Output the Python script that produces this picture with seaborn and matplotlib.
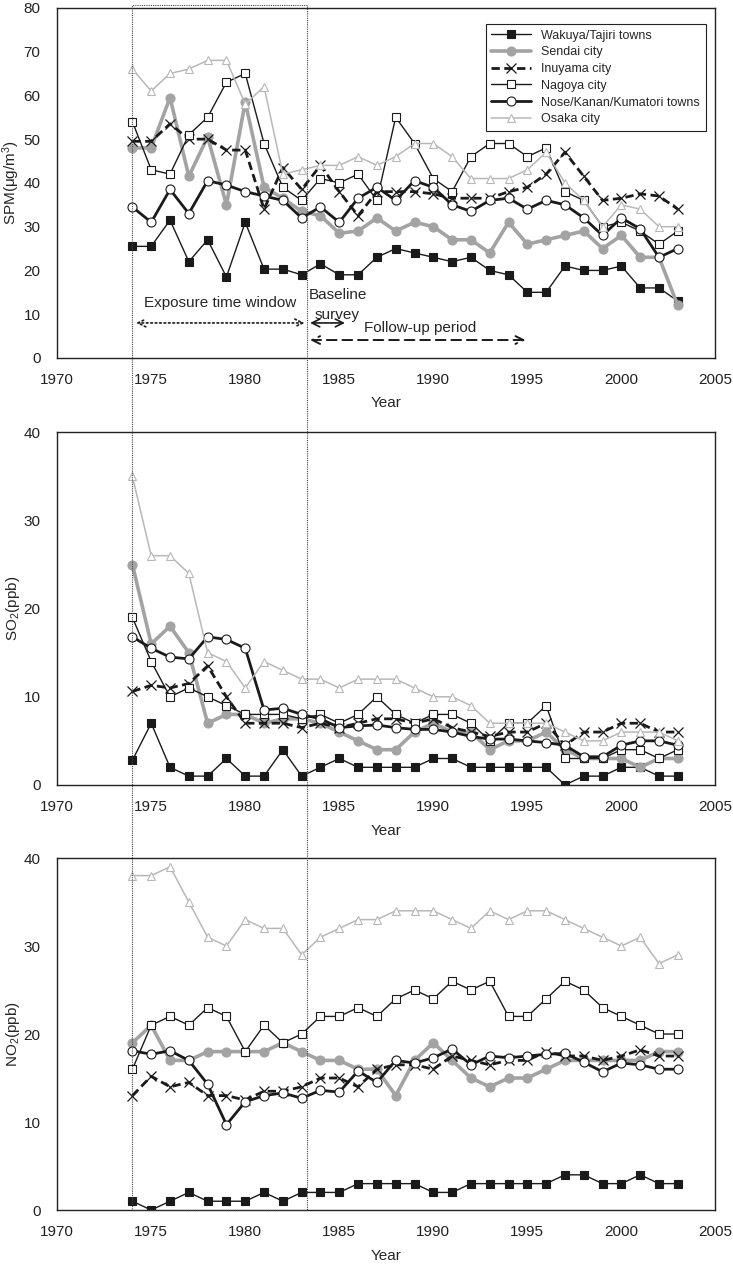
import numpy as np
import pandas as pd
import matplotlib
matplotlib.use('Agg')
import matplotlib.pyplot as plt
import matplotlib.transforms as mtransforms
from matplotlib.patches import Rectangle
import seaborn as sns

# data
years = list(range(1974, 2004))
sites = ['Wakuya/Tajiri towns', 'Sendai city', 'Inuyama city',
         'Nagoya city', 'Nose/Kanan/Kumatori towns', 'Osaka city']

spm_wakuya = [25.5, 25.5, 31.5, 22, 27, 18.5, 31, 20.3, 20.3, 19, 21.5, 19, 19, 23, 25,
              24, 23, 22, 23, 20, 19, 15, 15, 21, 20, 20, 21, 16, 16, 13]
spm_sendai = [48, 48, 59.5, 41.5, 50.5, 35, 58.5, 39, 36.5, 33.5, 32.5, 28.5, 29, 32, 29,
              31, 30, 27, 27, 24, 31, 26, 27, 28, 29, 25, 28, 23, 23, 12]
spm_inuyama = [49.5, 49.5, 53.5, 50, 50, 47.5, 47.5, 34, 43.5, 38.5, 44, 38, 32.5, 38, 38,
               38, 37.5, 36.5, 36.5, 36.5, 38, 39, 42, 47, 41.5, 36, 36.5, 37.5, 37, 34]
spm_nagoya = [54, 43, 42, 51, 55, 63, 65, 49, 39, 36, 41, 40, 42, 36, 55,
              49, 41, 38, 46, 49, 49, 46, 48, 38, 36, 30, 31, 29, 26, 29]
spm_nose = [34.5, 31, 38.5, 33, 40.5, 39.5, 38, 37, 36, 32, 34.5, 31, 36.5, 39, 36,
            40.5, 39, 35, 33.5, 36, 36.5, 34, 36, 35, 32, 28, 32, 29.5, 23, 25]
spm_osaka = [66, 61, 65, 66, 68, 68, 58, 62, 42, 43, 44, 44, 46, 44, 46,
             49, 49, 46, 41, 41, 41, 43, 47, 40, 36, 30, 35, 34, 30, 30]

so2_wakuya = [2.8, 7, 2, 1, 1, 3, 1, 1, 4, 1, 2, 3, 2, 2, 2,
              2, 3, 3, 2, 2, 2, 2, 2, 0, 1, 1, 2, 2, 1, 1]
so2_sendai = [25, 16, 18, 15, 7, 8, 8, 7, 7.5, 7.5, 7, 6, 5, 4, 4,
              6, 7, 6, 6, 4, 5, 5, 6, 4, 3, 3, 3, 2, 3, 3]
so2_inuyama = [10.6, 11.3, 11, 11.5, 13.5, 10, 7, 7, 7, 6.5, 7, 6.5, 7, 7.5, 7.5,
               7, 7.5, 6.5, 6, 5.5, 6, 6, 7, 4.5, 6, 6, 7, 7, 6, 6]
so2_nagoya = [19, 14, 10, 11, 10, 9, 8, 8, 8, 7.5, 8, 7, 8, 10, 8,
              7, 8, 8, 7, 5, 7, 7, 9, 3, 3, 3, 4, 4, 3, 4]
so2_nose = [16.8, 15.5, 14.5, 14.3, 16.8, 16.5, 15.5, 8.5, 8.7, 8, 7.5, 6.5, 6.7, 6.8, 6.5,
            6.3, 6.3, 6, 5.5, 5.2, 5.2, 5, 4.8, 4.5, 3.2, 3.2, 4.5, 5, 5, 4.5]
so2_osaka = [35, 26, 26, 24, 15, 14, 11, 14, 13, 12, 12, 11, 12, 12, 12,
             11, 10, 10, 9, 7, 7, 7, 7, 6, 5, 5, 6, 6, 6, 5]

no2_wakuya = [1, 0, 1, 2, 1, 1, 1, 2, 1, 2, 2, 2, 3, 3, 3,
              3, 2, 2, 3, 3, 3, 3, 3, 4, 4, 3, 3, 4, 3, 3]
no2_sendai = [19, 21, 17, 17, 18, 18, 18, 18, 19, 18, 17, 17, 16, 16, 13,
              17, 19, 17, 15, 14, 15, 15, 16, 17, 17, 17, 17, 17, 18, 18]
no2_inuyama = [13, 15.2, 14, 14.5, 13, 13, 12.5, 13.5, 13.5, 14, 15, 15, 14, 16, 16.5,
               16.5, 16, 17.5, 17, 16.5, 17, 17, 18, 17.5, 17.5, 17, 17.5, 18.2, 17.5, 17.5]
no2_nagoya = [16, 21, 22, 21, 23, 22, 18, 21, 19, 20, 22, 22, 23, 22, 24,
              25, 24, 26, 25, 26, 22, 22, 24, 26, 25, 23, 22, 21, 20, 20]
no2_nose = [18.1, 17.7, 18.1, 17, 14.3, 9.7, 12.3, 13, 13.3, 12.7, 13.6, 13.4, 15.8, 14.5, 17,
            16.7, 17.3, 18.3, 16.5, 17.5, 17.3, 17.5, 17.7, 17.8, 16.8, 15.7, 16.7, 16.5, 16, 16]
no2_osaka = [38, 38, 39, 35, 31, 30, 33, 32, 32, 29, 31, 32, 33, 33, 34,
             34, 34, 33, 32, 34, 33, 34, 34, 33, 32, 31, 30, 31, 28, 29]

panels = [
    ('SPM(μg/m$^3$)', 80, [spm_wakuya, spm_sendai, spm_inuyama, spm_nagoya, spm_nose, spm_osaka]),
    ('SO$_2$(ppb)', 40, [so2_wakuya, so2_sendai, so2_inuyama, so2_nagoya, so2_nose, so2_osaka]),
    ('NO$_2$(ppb)', 40, [no2_wakuya, no2_sendai, no2_inuyama, no2_nagoya, no2_nose, no2_osaka]),
]

k = '#1a1a1a'
g1 = '#a3a3a3'
g2 = '#b8b8b8'
styles = [
    dict(color=k, linewidth=1.0, linestyle='-', marker='s', markersize=5.2,
         markerfacecolor=k, markeredgecolor=k, markeredgewidth=0.8),
    dict(color=g1, linewidth=2.6, linestyle='-', marker='o', markersize=6.5,
         markerfacecolor=g1, markeredgecolor=g1, markeredgewidth=0.8),
    dict(color=k, linewidth=2.0, linestyle=(0, (3, 1.6)), marker='x', markersize=6.5,
         markerfacecolor=k, markeredgecolor=k, markeredgewidth=0.9),
    dict(color=k, linewidth=1.0, linestyle='-', marker='s', markersize=5.5,
         markerfacecolor='white', markeredgecolor=k, markeredgewidth=0.8),
    dict(color=k, linewidth=2.0, linestyle='-', marker='o', markersize=6.5,
         markerfacecolor='white', markeredgecolor=k, markeredgewidth=0.8),
    dict(color=g2, linewidth=1.1, linestyle='-', marker='^', markersize=5.5,
         markerfacecolor='white', markeredgecolor=g2, markeredgewidth=0.8),
]

sns.set_style('white')
plt.rcParams['font.family'] = ['Liberation Sans', 'DejaVu Sans']
plt.rcParams['mathtext.default'] = 'regular'

fs = 11
fig = plt.figure(figsize=(7.33, 12.64), dpi=100)
boxes = [[0.078, 0.7168, 0.898, 0.277],
         [0.078, 0.379, 0.898, 0.279],
         [0.078, 0.0427, 0.898, 0.2785]]
axes = []
for box, (ylab, ymax, series) in zip(boxes, panels):
    ax = fig.add_axes(box)
    for name, vals, st in zip(sites, series, styles):
        df = pd.DataFrame({'Year': years, 'value': vals})
        sns.lineplot(data=df, x='Year', y='value', ax=ax, label=name, **st)
    ax.set_xlim(1970, 2005)
    ax.set_ylim(0, ymax)
    ax.set_xticks(range(1970, 2006, 5))
    ax.set_yticks(range(0, ymax + 1, 10))
    ax.tick_params(axis='x', direction='in', length=4, width=0.8, pad=11,
                   labelsize=fs, colors='#222222')
    ax.tick_params(axis='y', length=0, pad=12, labelsize=fs, colors='#222222')
    ax.set_xlabel('Year', fontsize=fs)
    ax.xaxis.set_label_coords(0.5, -0.11)
    ax.set_ylabel(ylab, fontsize=fs)
    ax.yaxis.set_label_coords(-0.054, 0.5)
    for sp in ax.spines.values():
        sp.set_visible(True)
        sp.set_color('#222222')
        sp.set_linewidth(1.0)
    leg = ax.get_legend()
    if leg is not None:
        leg.remove()
    axes.append(ax)

ax1 = axes[0]
leg = ax1.legend(loc='upper right', bbox_to_anchor=(0.995, 0.972), fontsize=9,
                 frameon=True, fancybox=False, framealpha=1, edgecolor='#222222',
                 handlelength=3.2, labelspacing=0.38, borderpad=0.45)
leg.get_frame().set_linewidth(0.8)

# exposure window box spanning all panels
trans = mtransforms.blended_transform_factory(ax1.transData, fig.transFigure)
x0, x1 = years[0], 1983.3
y_bot = boxes[2][1]
fig.patches.append(Rectangle((x0, y_bot), x1 - x0, 0.996 - y_bot, transform=trans,
                             fill=False, linestyle=(0, (1, 1)), linewidth=0.8,
                             edgecolor='#444444', zorder=5))

# annotations on top panel
ax1.annotate('', xy=(x0 + 0.2, 8), xytext=(x1 - 0.15, 8),
             arrowprops=dict(arrowstyle='<->', linestyle=':', lw=1.2, color=k,
                             shrinkA=0, shrinkB=0, mutation_scale=14))
ax1.text((x0 + x1) / 2, 11, 'Exposure time window', ha='center', va='bottom', fontsize=fs)
ax1.annotate('', xy=(x1 + 0.15, 8), xytext=(1985.3, 8),
             arrowprops=dict(arrowstyle='<->', lw=1.2, color=k,
                             shrinkA=0, shrinkB=0, mutation_scale=14))
ax1.text(x1 + 0.1, 14.5, 'Baseline', ha='left', va='center', fontsize=fs)
ax1.text(x1 + 0.4, 9.8, 'survey', ha='left', va='center', fontsize=fs)
ax1.annotate('', xy=(x1 + 0.15, 4.1), xytext=(1994.9, 4.1),
             arrowprops=dict(arrowstyle='<->', linestyle=(0, (5, 3)), lw=1.4, color=k,
                             shrinkA=0, shrinkB=0, mutation_scale=14))
ax1.text(1986.3, 6.8, 'Follow-up period', ha='left', va='center', fontsize=fs)

fig.savefig('out.png', dpi=100)
